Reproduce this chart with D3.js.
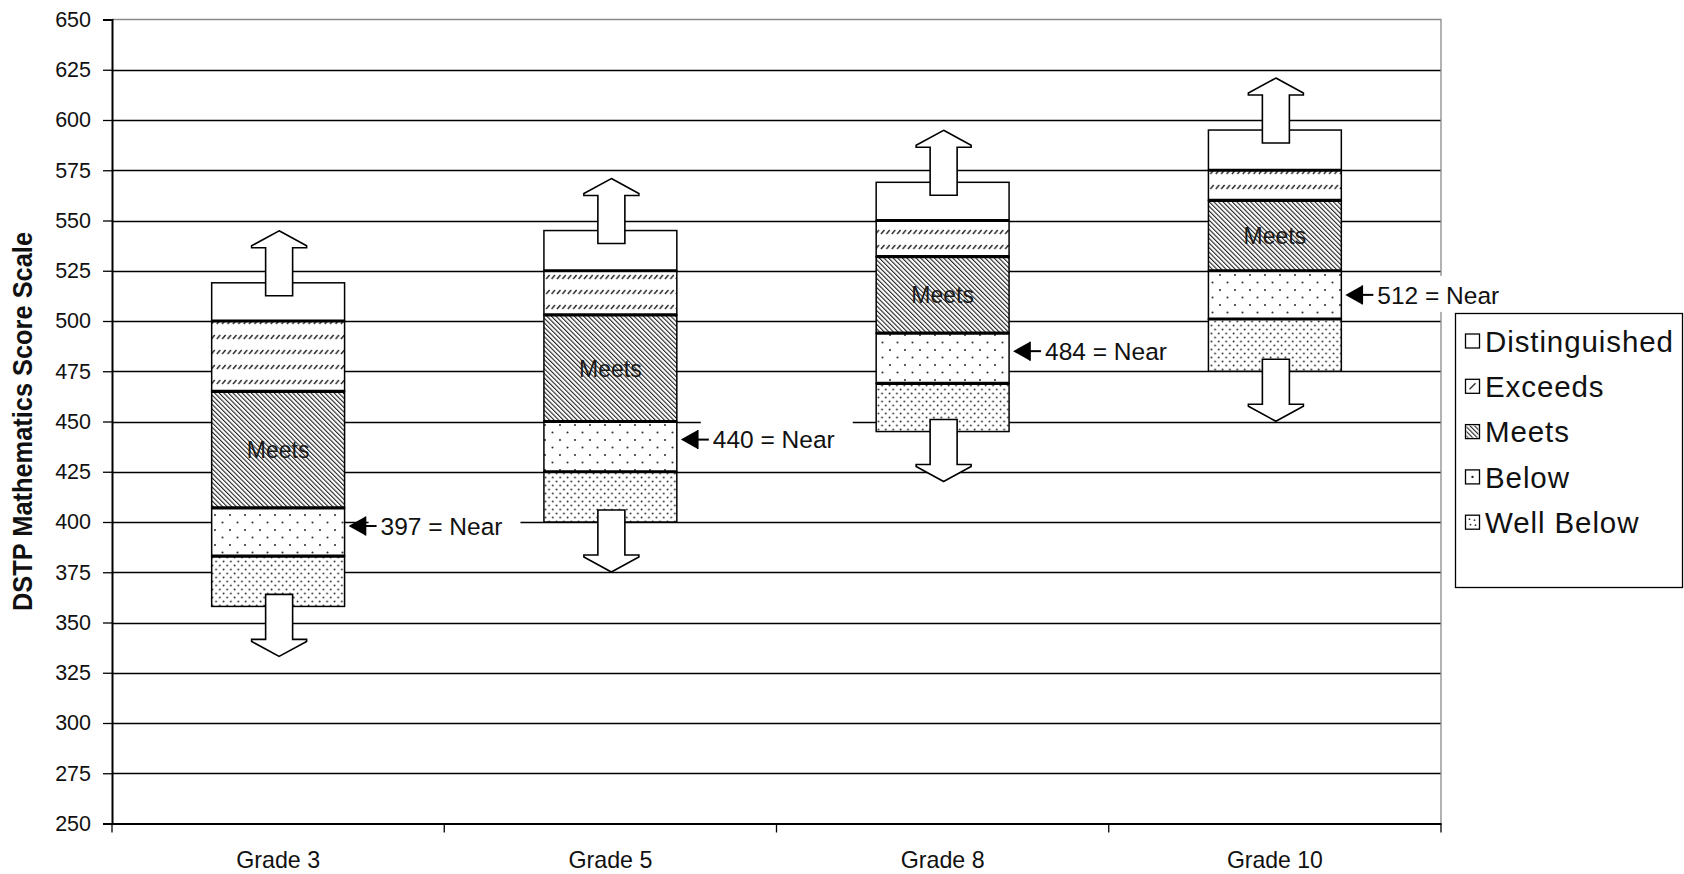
<!DOCTYPE html>
<html>
<head>
<meta charset="utf-8">
<script src="https://cdn.jsdelivr.net/npm/d3@7"></script>
<style>
  html, body { margin: 0; padding: 0; background: #fff; }
  svg { display: block; }
</style>
</head>
<body>
<svg id="chart" width="1684" height="874"></svg>
<script>
// Score ranges for each performance level, by grade
const grades = ["Grade 3", "Grade 5", "Grade 8", "Grade 10"];
const wellBelowMin     = [358, 400, 445, 475];
const belowMin         = [383, 425, 469, 501];
const meetsMin         = [407, 450, 494, 525];
const exceedsMin       = [465, 503, 532, 560];
const distinguishedMin = [500, 525, 550, 575];
const distinguishedMax = [519, 545, 569, 595];
const nearScores       = [397, 440, 484, 512];
const yTicks = d3.range(250, 651, 25);
const legendLabels = ["Distinguished", "Exceeds", "Meets", "Below", "Well Below"];

const svg = d3.select("#chart");
const plot = { left: 112, right: 1441, top: 19.5, bottom: 823.5 };

const x = d3.scaleBand().domain(grades).range([plot.left, plot.right]).paddingInner(0.6).paddingOuter(0.3);
const xBands = d3.scaleBand().domain(grades).range([plot.left, plot.right]);
const y = d3.scaleLinear().domain([250, 650]).range([plot.bottom, plot.top]);

// ---- fill patterns ----
const defs = svg.append("defs");
// Exceeds: rows of short slanted dashes
const pEx = defs.append("pattern").attr("id", "pExceeds").attr("patternUnits", "userSpaceOnUse")
  .attr("width", 5.4).attr("height", 15).attr("y", 4);
pEx.append("line").attr("x1", 0.8).attr("y1", 5).attr("x2", 4.2).attr("y2", 1)
  .attr("stroke", "#2a2a2a").attr("stroke-width", 1.5);
// Meets: dense backslash hatching
const pMe = defs.append("pattern").attr("id", "pMeets").attr("patternUnits", "userSpaceOnUse")
  .attr("width", 3.25).attr("height", 10).attr("patternTransform", "rotate(-45)");
pMe.append("rect").attr("x", 0).attr("y", 0).attr("width", 1.1).attr("height", 10).attr("fill", "#222");
// Below: sparse staggered dots
const pBe = defs.append("pattern").attr("id", "pBelow").attr("patternUnits", "userSpaceOnUse")
  .attr("width", 15).attr("height", 15).attr("x", 2).attr("y", 2);
pBe.append("circle").attr("cx", 3).attr("cy", 3).attr("r", 1.05).attr("fill", "#333");
pBe.append("circle").attr("cx", 10.5).attr("cy", 10.5).attr("r", 1.05).attr("fill", "#333");
// Well Below: denser staggered dots
const pWb = defs.append("pattern").attr("id", "pWellBelow").attr("patternUnits", "userSpaceOnUse")
  .attr("width", 7.4).attr("height", 8);
pWb.append("circle").attr("cx", 1.5).attr("cy", 1.5).attr("r", 0.95).attr("fill", "#333");
pWb.append("circle").attr("cx", 5.2).attr("cy", 5.5).attr("r", 0.95).attr("fill", "#333");

// ---- gridlines ----
svg.append("g").selectAll("line").data(yTicks.filter(v => v > 250 && v < 650)).join("line")
  .attr("x1", plot.left).attr("x2", plot.right)
  .attr("y1", d => Math.round(y(d)) + 0.5).attr("y2", d => Math.round(y(d)) + 0.5)
  .attr("stroke", "#000").attr("stroke-width", 1.3);
// plot area border (top / right)
svg.append("path")
  .attr("d", `M${plot.left},${y(650)}H${plot.right}V${y(250)}`)
  .attr("fill", "none").attr("stroke", "#8a8a8a").attr("stroke-width", 1.3);

// ---- axes ----
const yAxis = d3.axisLeft(y).tickValues(yTicks).tickSize(9).tickPadding(12).tickFormat(d3.format("d"));
const gy = svg.append("g").attr("transform", `translate(${plot.left},0)`).call(yAxis);
gy.select(".domain").attr("stroke", "#000").attr("stroke-width", 2);
gy.selectAll(".tick line").attr("stroke", "#000").attr("stroke-width", 1.3);
gy.selectAll(".tick text").attr("font-family", "'Liberation Sans', Arial, sans-serif")
  .attr("font-size", 21.5).attr("fill", "#111");

const xAxis = d3.axisBottom(xBands).tickSize(0).tickPadding(0).tickFormat("");
const gx = svg.append("g").attr("transform", `translate(0,${plot.bottom})`).call(xAxis);
gx.select(".domain").attr("stroke", "#000").attr("stroke-width", 2);
// category boundary ticks
const bounds = grades.map(g => xBands(g)).concat([plot.right]);
svg.append("g").selectAll("line").data(bounds).join("line")
  .attr("x1", d => d).attr("x2", d => d)
  .attr("y1", plot.bottom).attr("y2", plot.bottom + 9)
  .attr("stroke", "#000").attr("stroke-width", 1.3);
svg.append("g").selectAll("text").data(grades).join("text")
  .attr("x", d => xBands(d) + xBands.bandwidth() / 2)
  .attr("y", plot.bottom + 44)
  .attr("text-anchor", "middle")
  .attr("font-family", "'Liberation Sans Narrow', 'Arial Narrow', 'Liberation Sans', sans-serif")
  .attr("font-size", 24).attr("fill", "#111")
  .attr("textLength", d => d.length > 7 ? 96 : 84).attr("lengthAdjust", "spacingAndGlyphs")
  .text(d => d);

// y-axis title
svg.append("text")
  .attr("transform", `translate(32,${(plot.top + plot.bottom) / 2}) rotate(-90)`)
  .attr("text-anchor", "middle")
  .attr("font-family", "'Liberation Sans Narrow', 'Arial Narrow', 'Liberation Sans', sans-serif")
  .attr("font-weight", "bold").attr("font-size", 27).attr("fill", "#111")
  .attr("textLength", 379).attr("lengthAdjust", "spacingAndGlyphs")
  .text("DSTP Mathematics Score Scale");

// ---- stacked level bars ----
const segments = [];
grades.forEach((g, i) => {
  segments.push({ g, lo: wellBelowMin[i], hi: belowMin[i], fill: "url(#pWellBelow)" });
  segments.push({ g, lo: belowMin[i], hi: meetsMin[i], fill: "url(#pBelow)" });
  segments.push({ g, lo: meetsMin[i], hi: exceedsMin[i], fill: "url(#pMeets)" });
  segments.push({ g, lo: exceedsMin[i], hi: distinguishedMin[i], fill: "url(#pExceeds)" });
  segments.push({ g, lo: distinguishedMin[i], hi: distinguishedMax[i], fill: "none" });
});

const gBars = svg.append("g");
gBars.selectAll("rect.bg").data(segments).join("rect").attr("class", "bg")
  .attr("x", d => x(d.g)).attr("width", x.bandwidth())
  .attr("y", d => y(d.hi)).attr("height", d => y(d.lo) - y(d.hi))
  .attr("fill", "#fff");
gBars.selectAll("rect.fg").data(segments).join("rect").attr("class", "fg")
  .attr("x", d => x(d.g)).attr("width", x.bandwidth())
  .attr("y", d => y(d.hi)).attr("height", d => y(d.lo) - y(d.hi))
  .attr("fill", d => d.fill).attr("stroke", "#000").attr("stroke-width", 1.5);

// heavy cut-score lines between levels
const cuts = [];
grades.forEach((g, i) => {
  [belowMin[i], meetsMin[i], exceedsMin[i], distinguishedMin[i]].forEach(v => cuts.push({ g, v }));
});
gBars.selectAll("line.cut").data(cuts).join("line").attr("class", "cut")
  .attr("x1", d => x(d.g)).attr("x2", d => x(d.g) + x.bandwidth())
  .attr("y1", d => y(d.v)).attr("y2", d => y(d.v))
  .attr("stroke", "#000").attr("stroke-width", 3.2);

// "Meets" labels
gBars.selectAll("text.meets").data(grades).join("text").attr("class", "meets")
  .attr("x", d => x(d) + x.bandwidth() / 2)
  .attr("y", (d, i) => y((meetsMin[i] + exceedsMin[i]) / 2))
  .attr("dy", "0.36em")
  .attr("text-anchor", "middle")
  .attr("font-family", "'Liberation Sans', Arial, sans-serif")
  .attr("font-size", 23).attr("fill", "#1a1a1a")
  .text("Meets");

// open-ended block arrows above and below each bar
function blockArrow(cx, tipY, endY) {
  const dir = tipY < endY ? 1 : -1;      // 1 = pointing up
  const hw = 27.5, sw = 13.5, hh = 17, lip = 2;
  const b = tipY + dir * hh;
  return `M${cx},${tipY}L${cx + hw},${tipY + dir * (hh - lip)}L${cx + hw},${b}L${cx + sw},${b}` +
         `L${cx + sw},${endY}L${cx - sw},${endY}L${cx - sw},${b}L${cx - hw},${b}` +
         `L${cx - hw},${tipY + dir * (hh - lip)}Z`;
}
const gArrows = svg.append("g");
grades.forEach((g, i) => {
  const cx = x(g) + x.bandwidth() / 2 + 1;
  const top = y(distinguishedMax[i]);
  const bot = y(wellBelowMin[i]);
  gArrows.append("path").attr("d", blockArrow(cx, top - 52, top + 13))
    .attr("fill", "#fff").attr("stroke", "#000").attr("stroke-width", 1.6);
  gArrows.append("path").attr("d", blockArrow(cx, bot + 50, bot - 12))
    .attr("fill", "#fff").attr("stroke", "#000").attr("stroke-width", 1.6);
});

// "Near" score callouts
const gNear = svg.append("g");
grades.forEach((g, i) => {
  const x0 = x(g) + x.bandwidth() + 4;
  const cy = y(nearScores[i]) - 2;
  const grp = gNear.append("g");
  const bg = grp.append("rect").attr("fill", "#fff");
  grp.append("path")
    .attr("d", `M${x0},${cy}L${x0 + 17},${cy - 9.5}L${x0 + 17},${cy + 9.5}Z`)
    .attr("fill", "#000");
  grp.append("line").attr("x1", x0 + 16).attr("x2", x0 + 28).attr("y1", cy).attr("y2", cy)
    .attr("stroke", "#000").attr("stroke-width", 2);
  grp.append("line").attr("x1", x0 + 17).attr("x2", x0 + 17).attr("y1", cy - 9.5).attr("y2", cy + 9.5)
    .attr("stroke", "#000").attr("stroke-width", 1.5);
  const t = grp.append("text")
    .attr("x", x0 + 32).attr("y", cy).attr("dy", "0.36em")
    .attr("font-family", "'Liberation Sans', Arial, sans-serif")
    .attr("font-size", 24.5).attr("fill", "#111")
    .text(`${nearScores[i]} = Near`);
  const w = t.node().getComputedTextLength();
  bg.attr("x", x0 + 20).attr("y", cy - 19).attr("width", 12 + w + 18).attr("height", 36);
});

// ---- legend ----
const lg = svg.append("g");
lg.append("rect").attr("x", 1455.5).attr("y", 313.5).attr("width", 227).attr("height", 274)
  .attr("fill", "#fff").attr("stroke", "#000").attr("stroke-width", 1.3);
const legendY = d => 341 + d * 45.3;
legendLabels.forEach((lab, i) => {
  const cy = legendY(i);
  const bx = 1465.5, by = cy - 7, s = 14;
  lg.append("rect").attr("x", bx).attr("y", by).attr("width", s).attr("height", s)
    .attr("fill", "#fff").attr("stroke", "#000").attr("stroke-width", 1.3);
  if (lab === "Exceeds") {
    lg.append("line").attr("x1", bx + 4).attr("y1", by + 10).attr("x2", bx + 10).attr("y2", by + 4)
      .attr("stroke", "#333").attr("stroke-width", 1.4);
  } else if (lab === "Meets") {
    lg.append("rect").attr("x", bx + 1).attr("y", by + 1).attr("width", s - 2).attr("height", s - 2)
      .attr("fill", "url(#pMeets)");
  } else if (lab === "Below") {
    lg.append("circle").attr("cx", bx + s / 2).attr("cy", by + s / 2).attr("r", 1.2).attr("fill", "#222");
  } else if (lab === "Well Below") {
    [[4, 4], [9, 5], [5, 9.5], [10, 10]].forEach(([dx, dy]) =>
      lg.append("circle").attr("cx", bx + dx).attr("cy", by + dy).attr("r", 0.9).attr("fill", "#333"));
  }
  lg.append("text").attr("x", 1485).attr("y", cy).attr("dy", "0.36em")
    .attr("font-family", "'Liberation Sans', Arial, sans-serif")
    .attr("font-size", 29.5).attr("letter-spacing", 0.9).attr("fill", "#111")
    .text(lab);
});
</script>
</body>
</html>
